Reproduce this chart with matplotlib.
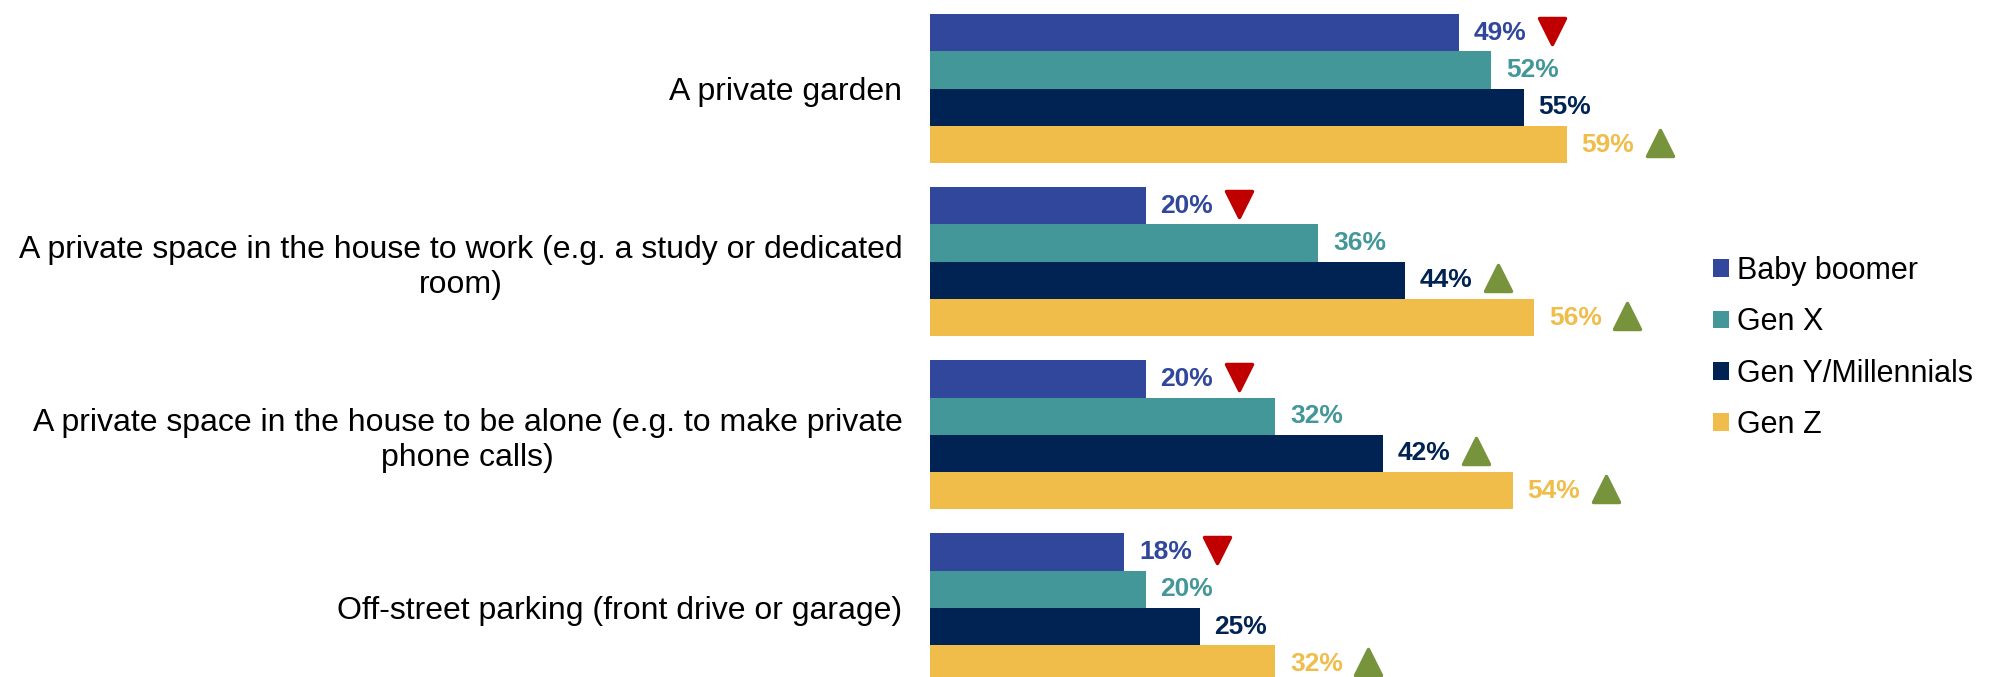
import numpy as np
import matplotlib
matplotlib.use("Agg")
import matplotlib.pyplot as plt
from matplotlib.markers import MarkerStyle
from matplotlib.transforms import offset_copy

plt.rcParams['font.family'] = ['Liberation Sans', 'DejaVu Sans']

categories = [
    "A private garden",
    "A private space in the house to work (e.g. a study or dedicated\nroom)",
    "A private space in the house to be alone (e.g. to make private\nphone calls)",
    "Off-street parking (front drive or garage)",
]
series = ["Baby boomer", "Gen X", "Gen Y/Millennials", "Gen Z"]
baby_boomer = [49, 20, 20, 18]
gen_x = [52, 36, 32, 20]
gen_y = [55, 44, 42, 25]
gen_z = [59, 56, 54, 32]
# significance flags: -1 = significantly lower, 1 = significantly higher
sig_baby_boomer = [-1, -1, -1, -1]
sig_gen_x = [0, 0, 0, 0]
sig_gen_y = [0, 1, 1, 0]
sig_gen_z = [1, 1, 1, 1]

colors = ["#31479C", "#439798", "#002353", "#F0BD4A"]
down_color = "#C00000"
up_color = "#77933C"

values = [baby_boomer, gen_x, gen_y, gen_z]
flags = [sig_baby_boomer, sig_gen_x, sig_gen_y, sig_gen_z]

W, H = 1989, 677
fig = plt.figure(figsize=(W / 100, H / 100), dpi=100)
ax = fig.add_axes([929.5 / W, 0, 1026 / W, 1])

h = 0.2155
y = np.arange(len(categories))
label_tr = offset_copy(ax.transData, fig=fig, x=15, y=0, units='dots')
mark_tr = offset_copy(ax.transData, fig=fig, x=93, y=2, units='dots')

for j, (name, vals, flg, col) in enumerate(zip(series, values, flags, colors)):
    ypos = y + (j - 1.5) * h
    ax.barh(ypos, vals, height=h, color=col, linewidth=0, label=name)
    for yy, v, f in zip(ypos, vals, flg):
        ax.text(v, yy, f"{v}%", transform=label_tr, ha='left', va='center',
                fontsize=19, fontweight='bold', color=col)
        if f:
            mk = MarkerStyle('^' if f > 0 else 'v', joinstyle='round')
            mc = up_color if f > 0 else down_color
            ax.plot([v], [yy], marker=mk, ms=19, color=mc, mec=mc, mew=2.5,
                    transform=mark_tr, clip_on=False)

ax.set_xlim(0, 95)
ax.set_ylim(3.399, -0.512)
ax.set_yticks(y)
ax.set_yticklabels(categories, fontsize=23)
for lbl in ax.get_yticklabels():
    lbl.set_multialignment('center')
ax.tick_params(axis='y', length=0, pad=19.5)
ax.set_xticks([])
for s in ax.spines.values():
    s.set_visible(False)

fig.legend(loc='center left', bbox_to_anchor=(1713 / W, 329 / H), frameon=False,
           fontsize=22, handlelength=0.52, handleheight=0.52, handletextpad=0.25,
           labelspacing=0.7, borderpad=0, borderaxespad=0)

fig.savefig("out.png", dpi=100)
